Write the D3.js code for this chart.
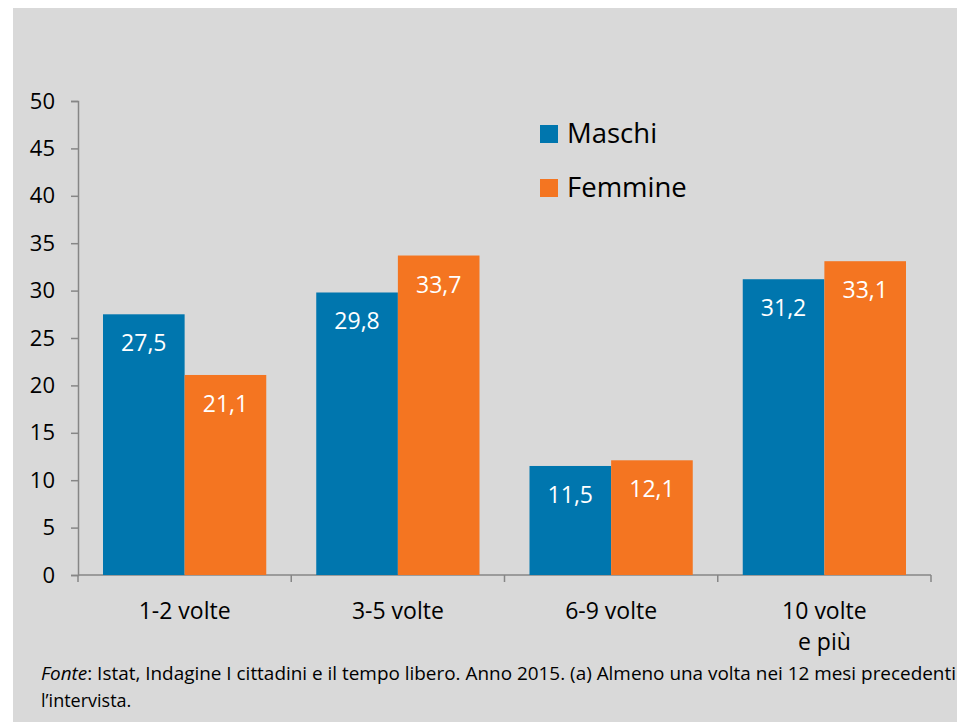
<!DOCTYPE html>
<html>
<head>
<meta charset="utf-8">
<script src="https://cdn.jsdelivr.net/npm/d3@7"></script>
<style>
  body { margin: 0; background: #fff; }
  svg text { font-family: "Open Sans", sans-serif; }
</style>
</head>
<body>
<svg width="957" height="722"></svg>
<script>
const categories = ["1-2 volte", "3-5 volte", "6-9 volte", "10 volte e più"];
const categoryLines = [["1-2 volte"], ["3-5 volte"], ["6-9 volte"], ["10 volte", "e più"]];
const series = ["Maschi", "Femmine"];
const maschi = [27.5, 29.8, 11.5, 31.2];
const femmine = [21.1, 33.7, 12.1, 33.1];
const yTicks = [0, 5, 10, 15, 20, 25, 30, 35, 40, 45, 50];
const colors = ["#0076ae", "#f47521"];

const rows = categories.map((c, i) => ({ cat: c, values: [maschi[i], femmine[i]] }));

const svg = d3.select("svg");

svg.append("rect")
  .attr("x", 13).attr("y", 8)
  .attr("width", 944).attr("height", 714)
  .attr("fill", "#d9d9d9");

const y = d3.scaleLinear().domain([0, 50]).range([575, 101]);
const x0 = d3.scaleBand().domain(categories).range([78, 931]);
const x1 = d3.scaleBand().domain(series).range([25, x0.bandwidth() - 25]);

// y axis
const yAxis = svg.append("g")
  .attr("transform", "translate(78,0)")
  .call(d3.axisLeft(y).tickValues(yTicks).tickSize(7).tickPadding(16));
yAxis.select(".domain").attr("stroke", "#868686").attr("stroke-width", 1.5);
yAxis.selectAll(".tick line").attr("stroke", "#868686").attr("stroke-width", 1.5);
yAxis.selectAll(".tick text")
  .attr("fill", "#000")
  .style("font-size", "22px");

// x axis line + boundary ticks
const xg = svg.append("g");
xg.append("line")
  .attr("x1", x0.range()[0]).attr("x2", x0.range()[1])
  .attr("y1", y(0)).attr("y2", y(0))
  .attr("stroke", "#868686").attr("stroke-width", 1.5);
const bounds = categories.map(c => x0(c)).concat([x0.range()[1]]);
xg.selectAll("line.bt")
  .data(bounds)
  .enter()
  .append("line")
  .attr("class", "bt")
  .attr("x1", d => d).attr("x2", d => d)
  .attr("y1", y(0)).attr("y2", y(0) + 7)
  .attr("stroke", "#868686").attr("stroke-width", 1.5);

// category labels
const catLabels = xg.selectAll("text.cat")
  .data(categoryLines)
  .enter()
  .append("text")
  .attr("class", "cat")
  .attr("text-anchor", "middle")
  .attr("fill", "#000")
  .style("font-size", "23px")
  .attr("transform", (d, i) => `translate(${x0(categories[i]) + x0.bandwidth() / 2},619)`);
catLabels.selectAll("tspan")
  .data(d => d)
  .enter()
  .append("tspan")
  .attr("x", 0)
  .attr("y", (d, i) => i * 31)
  .text(d => d);

// bars
const groups = svg.selectAll("g.grp")
  .data(rows)
  .enter()
  .append("g")
  .attr("class", "grp")
  .attr("transform", d => `translate(${x0(d.cat)},0)`);

groups.selectAll("rect")
  .data(d => d.values.map((v, i) => ({ key: series[i], v: v, i: i })))
  .enter()
  .append("rect")
  .attr("x", d => x1(d.key))
  .attr("y", d => y(d.v))
  .attr("width", x1.bandwidth())
  .attr("height", d => y(0) - y(d.v))
  .attr("fill", d => colors[d.i]);

groups.selectAll("text.val")
  .data(d => d.values.map((v, i) => ({ key: series[i], v: v })))
  .enter()
  .append("text")
  .attr("class", "val")
  .attr("x", d => x1(d.key) + x1.bandwidth() / 2)
  .attr("y", d => y(d.v) + 37)
  .attr("text-anchor", "middle")
  .attr("fill", "#fff")
  .style("font-size", "23px")
  .text(d => d.v.toFixed(1).replace(".", ","));

// legend
const legend = svg.selectAll("g.leg")
  .data(series)
  .enter()
  .append("g")
  .attr("class", "leg")
  .attr("transform", (d, i) => `translate(540,${125 + i * 54})`);
legend.append("rect")
  .attr("width", 18).attr("height", 18)
  .attr("fill", (d, i) => colors[i]);
legend.append("text")
  .attr("x", 27).attr("y", 18)
  .attr("fill", "#000")
  .style("font-size", "27.5px")
  .text(d => d);

// footer
const foot = svg.append("text")
  .attr("x", 41).attr("y", 680)
  .attr("fill", "#000")
  .style("font-size", "18px")
  .attr("textLength", 915)
  .attr("lengthAdjust", "spacingAndGlyphs");
foot.append("tspan").style("font-style", "italic").text("Fonte");
foot.append("tspan").text(":  Istat, Indagine I cittadini e il tempo libero. Anno 2015. (a) Almeno una volta nei 12 mesi precedenti");
svg.append("text")
  .attr("x", 41).attr("y", 707)
  .attr("fill", "#000")
  .style("font-size", "18px")
  .text("l’intervista.");
</script>
</body>
</html>
